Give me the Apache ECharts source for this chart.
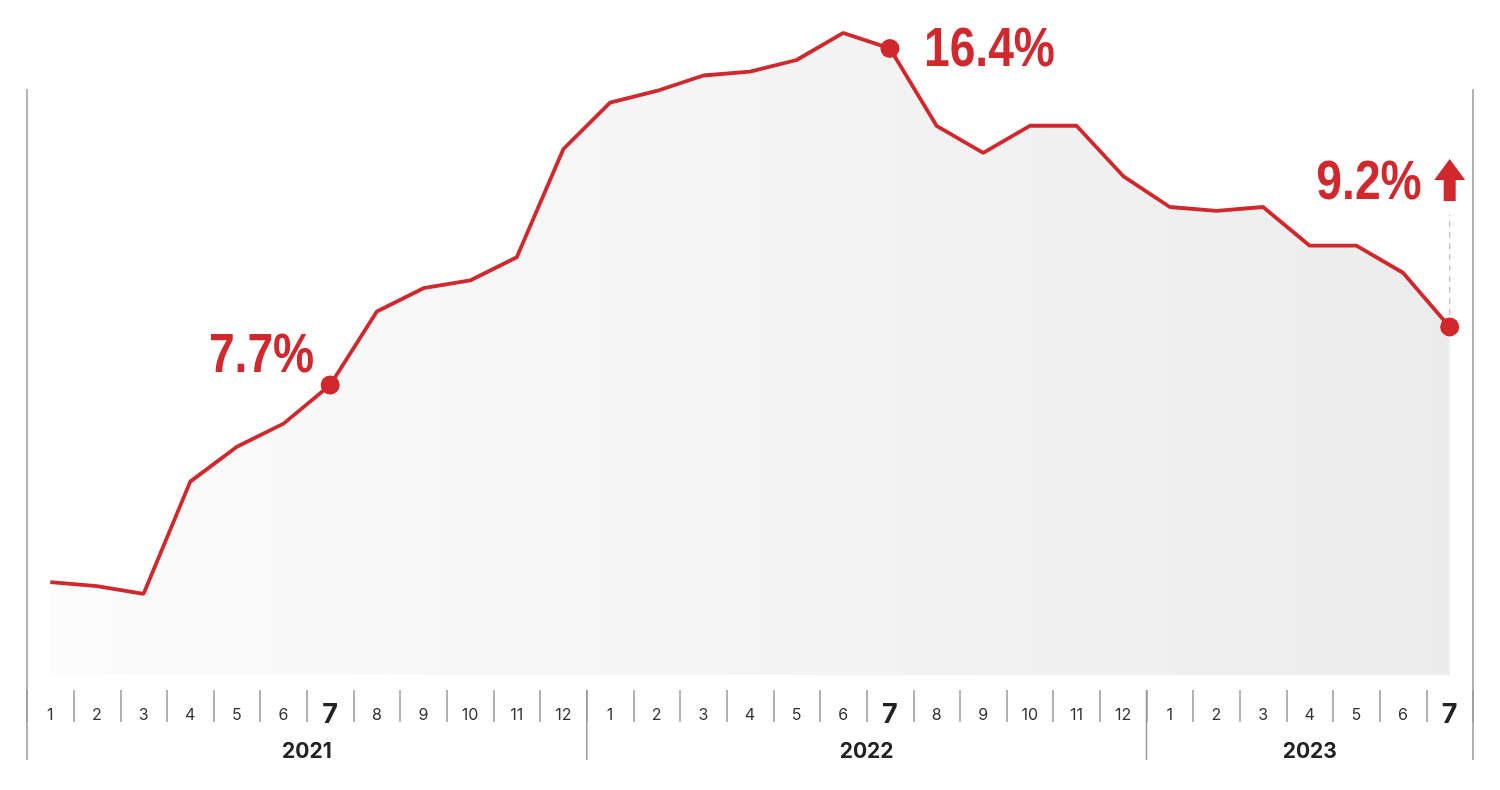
<!DOCTYPE html>
<html>
<head>
<meta charset="utf-8">
<script src="https://cdn.jsdelivr.net/npm/echarts@6/dist/echarts.min.js"></script>
<style>
html,body{margin:0;padding:0;background:#fff;}
#chart{width:1500px;height:790px;}
</style>
</head>
<body>
<div id="chart"></div>
<script>
var months = ['1','2','3','4','5','6','7','8','9','10','11','12',
              '1','2','3','4','5','6','7','8','9','10','11','12',
              '1','2','3','4','5','6','7'];
var years = ['2021','2022','2023'];
var yearCounts = [12, 12, 7];
var values = [2.6,2.5,2.3,5.2,6.1,6.7,7.7,9.6,10.2,10.4,11.0,13.8,
              15.0,15.3,15.7,15.8,16.1,16.8,16.4,14.4,13.7,14.4,14.4,13.1,
              12.3,12.2,12.3,11.3,11.3,10.6,9.2];
var highlightIdx = [6, 18, 30];

var RED = '#d0282c';
var LABEL_FONT = "'Liberation Sans', Arial, sans-serif";

var chart = echarts.init(document.getElementById('chart'));

var seriesData = values.map(function (v, i) {
  if (highlightIdx.indexOf(i) >= 0) {
    return { value: v, symbol: 'circle', symbolSize: 19, itemStyle: { color: RED } };
  }
  return { value: v, symbol: 'none' };
});

var option = {
  animation: false,
  grid: { left: 27, right: 27, top: 2, bottom: 115, containLabel: false },
  xAxis: {
    type: 'category',
    data: months,
    boundaryGap: true,
    offset: 15,
    axisLine: { show: false },
    axisTick: { show: true, length: 32, lineStyle: { color: '#9a9a9a', width: 1.5 } },
    axisLabel: {
      interval: 0,
      margin: 11,
      verticalAlign: 'top',
      formatter: function (v, i) {
        return highlightIdx.indexOf(i) >= 0 ? '{b|' + v + '}' : '{n|' + v + '}';
      },
      rich: {
        n: { fontFamily: 'Inter, Roboto, sans-serif', fontSize: 16, color: '#333', height: 28, lineHeight: 28, verticalAlign: 'bottom', padding: [9, 0, 0, 0] },
        b: { fontFamily: 'Inter, Roboto, sans-serif', fontSize: 27, fontWeight: 'bold', color: '#222', height: 28, lineHeight: 28, verticalAlign: 'bottom' }
      }
    },
    splitLine: { show: false }
  },
  yAxis: {
    type: 'value',
    min: 0.2,
    max: 17.6,
    show: false,
    splitLine: { show: false }
  },
  series: [{
    type: 'line',
    data: seriesData,
    showSymbol: true,
    lineStyle: { color: RED, width: 3.8 },
    itemStyle: { color: RED },
    areaStyle: {
      origin: 'start',
      color: new echarts.graphic.LinearGradient(0, 0, 1, 0, [
        { offset: 0, color: '#f9f9f9' },
        { offset: 0.5, color: '#efefef' },
        { offset: 1, color: '#e3e3e3' }
      ])
    },
    z: 3
  }]
};

chart.setOption(option);

function cx(i) { return chart.convertToPixel({ xAxisIndex: 0 }, i); }
var bw = cx(1) - cx(0);
function boundary(i) { return cx(0) - bw / 2 + i * bw; }
function pt(i) { return chart.convertToPixel({ xAxisIndex: 0, yAxisIndex: 0 }, [i, values[i]]); }

var graphics = [];
var lineCol = '#9a9a9a';
// edge lines
graphics.push({ type: 'line', shape: { x1: boundary(0), y1: 89, x2: boundary(0), y2: 760 }, style: { stroke: lineCol, lineWidth: 1.5 } });
graphics.push({ type: 'line', shape: { x1: boundary(months.length), y1: 89, x2: boundary(months.length), y2: 760 }, style: { stroke: lineCol, lineWidth: 1.5 } });
// year groups
var start = 0;
years.forEach(function (y, k) {
  var end = start + yearCounts[k];
  if (k > 0) {
    graphics.push({ type: 'line', shape: { x1: boundary(start), y1: 690, x2: boundary(start), y2: 760 }, style: { stroke: lineCol, lineWidth: 1.5 } });
  }
  graphics.push({
    type: 'text',
    x: (boundary(start) + boundary(end)) / 2,
    y: 752,
    style: { text: y, fontFamily: 'Inter, Roboto, sans-serif', fontSize: 21, fontWeight: 'bold', fill: '#222', align: 'center', verticalAlign: 'middle' }
  });
  start = end;
});

// value annotations
function valueLabel(i, dx, dy, align) {
  var p = pt(i);
  return {
    type: 'text',
    x: p[0] + dx,
    y: p[1] + dy,
    scaleX: 0.84,
    z: 10,
    style: {
      text: values[i].toFixed(1) + '%',
      fontFamily: LABEL_FONT, fontWeight: 'bold', fontSize: 55,
      fill: RED, align: align, verticalAlign: 'middle'
    }
  };
}
graphics.push(valueLabel(6, -16, -28, 'right'));
graphics.push(valueLabel(18, 34, 2, 'left'));
graphics.push(valueLabel(30, -28, -143, 'right'));

// dashed line and arrow from last point
var last = values.length - 1;
var p = pt(last);
graphics.push({ type: 'line', shape: { x1: p[0], y1: p[1] - 12, x2: p[0], y2: p[1] - 112 }, style: { stroke: '#bdbdbd', lineWidth: 1.2, lineDash: [6, 5] } });
graphics.push({
  type: 'polygon',
  shape: { points: [
    [p[0], p[1] - 168], [p[0] + 15.5, p[1] - 147], [p[0] + 6, p[1] - 147],
    [p[0] + 6, p[1] - 126], [p[0] - 6, p[1] - 126], [p[0] - 6, p[1] - 147], [p[0] - 15.5, p[1] - 147]
  ] },
  style: { fill: RED }
});
chart.setOption({ graphic: graphics });
</script>
</body>
</html>
